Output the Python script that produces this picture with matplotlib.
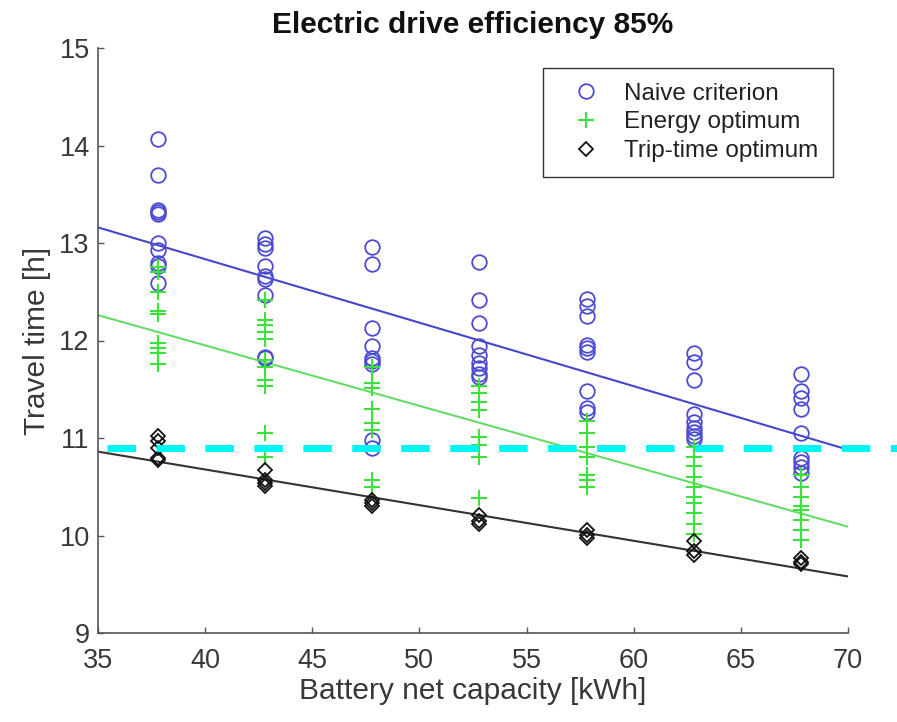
import matplotlib
matplotlib.use("Agg")
import matplotlib.pyplot as plt
import numpy as np

plt.rcParams['font.family'] = ['Liberation Sans', 'DejaVu Sans']

# ---- data ----
capacities = [37.8, 42.8, 47.8, 52.8, 57.8, 62.8, 67.8]

naive = [
    [14.07, 13.70, 13.34, 13.32, 13.30, 13.00, 12.93, 12.79, 12.76, 12.59],
    [13.05, 12.99, 12.95, 12.76, 12.66, 12.63, 12.47, 11.83, 11.82],
    [12.96, 12.78, 12.13, 11.94, 11.82, 11.79, 11.76, 10.98, 10.90],
    [12.81, 12.42, 12.18, 11.94, 11.85, 11.77, 11.72, 11.66, 11.63],
    [12.43, 12.35, 12.25, 11.95, 11.92, 11.88, 11.48, 11.31, 11.27],
    [11.87, 11.78, 11.60, 11.25, 11.16, 11.10, 11.06, 11.02, 10.99],
    [11.66, 11.48, 11.41, 11.30, 11.05, 10.80, 10.75, 10.70, 10.64],
]
energy = [
    [12.75, 12.70, 12.50, 12.30, 12.27, 11.97, 11.92, 11.87, 11.76],
    [12.42, 12.21, 12.16, 12.09, 12.02, 11.80, 11.73, 11.60, 11.53, 11.05, 10.81],
    [11.73, 11.56, 11.51, 11.30, 11.15, 11.08, 10.57, 10.50],
    [11.53, 11.46, 11.37, 11.29, 11.01, 10.93, 10.81, 10.38],
    [11.17, 11.05, 10.91, 10.81, 10.62, 10.57, 10.50],
    [10.91, 10.81, 10.71, 10.60, 10.50, 10.40, 10.33, 10.23, 10.12, 10.02],
    [10.62, 10.50, 10.40, 10.30, 10.26, 10.16, 10.06, 9.95],
]
trip = [
    [11.02, 10.97, 10.90, 10.80, 10.77],
    [10.67, 10.57, 10.54, 10.51],
    [10.36, 10.33, 10.30],
    [10.21, 10.15, 10.12],
    [10.06, 10.01, 9.97],
    [9.94, 9.84, 9.80],
    [9.77, 9.73, 9.71],
]

fit_x = [35, 70]
naive_fit = [13.16, 10.88]
energy_fit = [12.26, 10.09]
trip_fit = [10.86, 9.58]

threshold = 10.9

series_labels = ["Naive criterion", "Energy optimum", "Trip-time optimum"]
title = "Electric drive efficiency 85%"
xlabel = "Battery net capacity [kWh]"
ylabel = "Travel time [h]"
xticks = [35, 40, 45, 50, 55, 60, 65, 70]
yticks = [9, 10, 11, 12, 13, 14, 15]


def flatten(groups):
    xs, ys = [], []
    for c, g in zip(capacities, groups):
        xs += [c] * len(g)
        ys += list(g)
    return xs, ys


W, H = 897, 722
fig = plt.figure(figsize=(W / 100, H / 100), dpi=100)
ax = fig.add_axes([98 / W, 1 - 633 / H, (848 - 98) / W, (633 - 48) / H])

blue = '#4c4cd2'
green = '#3ee03e'
black = '#111111'

ax.plot(fit_x, naive_fit, color='#4646cc', lw=1.5, zorder=2)
ax.plot(fit_x, energy_fit, color='#66dd66', lw=1.5, zorder=2)
ax.plot(fit_x, trip_fit, color='#333333', lw=1.5, zorder=2)

xn, yn = flatten(naive)
xe, ye = flatten(energy)
xt, yt = flatten(trip)
ax.plot(xn, yn, 'o', ms=10.5, mfc='none', mec=blue, mew=1.3, ls='none',
        label=series_labels[0], zorder=3)
ax.plot(xe, ye, '+', ms=11, mec=green, mew=1.5, ls='none',
        label=series_labels[1], zorder=3)
ax.plot(xt, yt, 'D', ms=7.5, mfc='none', mec=black, mew=1.3, ls='none',
        label=series_labels[2], zorder=3)

ax.plot([35.42, 72.6], [threshold, threshold], color='#00f5f5', lw=5.0,
        dashes=(4.1, 2.95), dash_capstyle='butt', solid_capstyle='butt',
        clip_on=False, zorder=5)

ax.set_xlim(35, 70)
ax.set_ylim(9, 15)
ax.set_xticks(xticks)
ax.set_yticks(yticks)
ax.spines['top'].set_visible(False)
ax.spines['right'].set_visible(False)
for s in ('left', 'bottom'):
    ax.spines[s].set_color('#555555')
    ax.spines[s].set_linewidth(1.2)
ax.tick_params(axis='both', direction='in', length=4.5, width=1.0,
               colors='#555555', labelcolor='#383838', labelsize=19.5)
ax.tick_params(axis='x', pad=11)
ax.tick_params(axis='y', pad=6)

ax.set_title(title, fontsize=21.5, fontweight='bold', pad=11, color='#111111')
ax.set_xlabel(xlabel, fontsize=21.5, color='#383838', labelpad=2)
ax.set_ylabel(ylabel, fontsize=21.5, color='#383838', labelpad=6)

leg = ax.legend(loc='upper right', bbox_to_anchor=(833 / W, 1 - 68 / H),
                bbox_transform=fig.transFigure, borderaxespad=0,
                fontsize=17.5, frameon=True, fancybox=False, framealpha=1,
                edgecolor='#333333', borderpad=0.6, handlelength=2.4,
                handletextpad=0.35, labelspacing=0.28)
leg.get_frame().set_linewidth(1.0)
for t in leg.get_texts():
    t.set_color('#222222')

fig.savefig('out.png', dpi=100)
